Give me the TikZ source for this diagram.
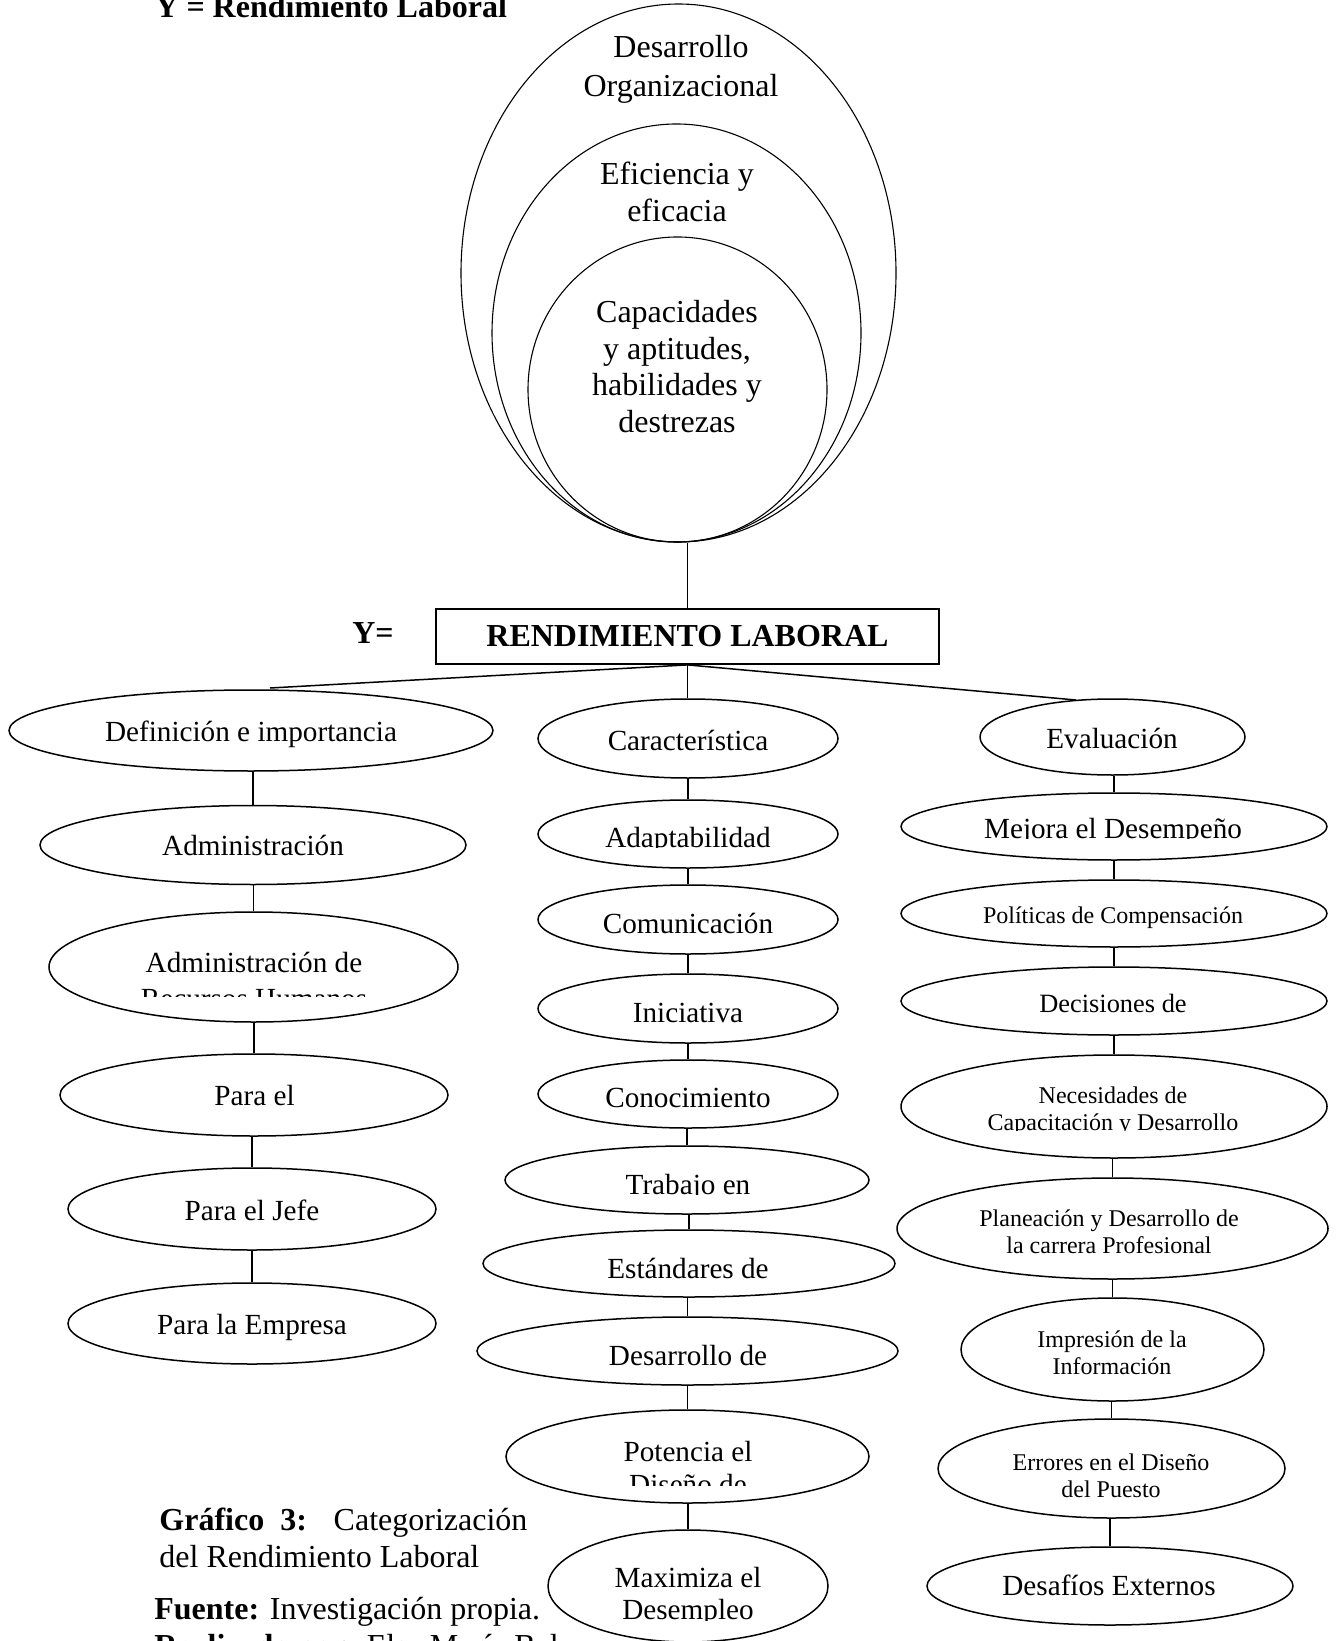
\documentclass[tikz,border=0pt]{standalone}
\usepackage{fontspec}
\setmainfont{Liberation Serif}
\usetikzlibrary{shapes.geometric}

\tikzset{
  oval/.style={ellipse, draw, line width=0.75pt, fill=white, inner sep=0pt},
  ring/.style={ellipse, draw, line width=0.55pt, inner sep=0pt},
  link/.style={line width=0.75pt},
  tA/.style={anchor=base, inner sep=0pt, font=\fontsize{16}{18}\selectfont},
  tB/.style={anchor=base, inner sep=0pt, font=\fontsize{14.6}{16}\selectfont},
  tC/.style={anchor=base, inner sep=0pt, font=\fontsize{13.2}{15}\selectfont},
  tD/.style={anchor=base, inner sep=0pt, font=\fontsize{12}{14}\selectfont},
  capt/.style={anchor=base west, inner sep=0pt, font=\fontsize{16}{18}\selectfont},
}

% ellipse node: name, x, y, half width, half height (in px units = pt/2)
\newcommand\ovalat[5]{\node[oval, minimum width=#4pt, minimum height=#5pt] (#1) at (#2,#3) {};}
% text line: style, name, x, baseline y, text
\newcommand\txt[5]{\node[#1] (#2) at (#3,#4) {#5};}
% text line cut off below a given y
\newcommand\cliptxt[6]{\begin{scope}\clip (#3-330,#4-45) rectangle (#3+330,#6);
  \node[#1] (#2) at (#3,#4) {#5};\end{scope}}

\begin{document}
\begin{tikzpicture}[x=0.5pt, y=-0.5pt]
\useasboundingbox (0,0) rectangle (1338,1641);

% heading
\node[capt, font=\bfseries\fontsize{16}{18}\selectfont] (head) at (155,18) {Y = Rendimiento Laboral};

% nested ellipses
\node[ring, minimum width=217.5pt, minimum height=269pt] (outer) at (678.5,273) {};
\node[ring, minimum width=184.5pt, minimum height=209pt] (middle) at (676.5,333) {};
\node[ring, minimum width=149.5pt, minimum height=152.5pt] (inner) at (677.5,389.5) {};
\txt{tA}{o1}{681}{57.5}{Desarrollo}
\txt{tA}{o2}{681}{96.5}{Organizacional}
\txt{tA}{m1}{677}{184.5}{Eficiencia y}
\txt{tA}{m2}{677}{221.5}{eficacia}
\txt{tA}{i1}{677}{322.5}{Capacidades}
\txt{tA}{i2}{677}{359.5}{y aptitudes,}
\txt{tA}{i3}{677}{395.5}{habilidades y}
\txt{tA}{i4}{677}{432.5}{destrezas}

% central box
\node[draw, line width=0.9pt, minimum width=251.5pt, minimum height=27.5pt, inner sep=0pt,
      font=\bfseries\fontsize{16}{18}\selectfont] (box) at (687.5,636.5) {RENDIMIENTO LABORAL};
\node[anchor=base, inner sep=0pt, font=\bfseries\fontsize{16}{18}\selectfont] (yeq) at (373,643.5) {Y=};
\draw[link] (box.north) -- (box.north |- outer.south);

% left branch
\ovalat{l1}{251}{730.5}{242}{40.5}
\ovalat{l2}{253}{845}{213}{39.5}
\ovalat{l3}{253.5}{967}{204.5}{55}
\ovalat{l4}{254}{1095}{194}{41}
\ovalat{l5}{252}{1209}{184}{41}
\ovalat{l6}{252}{1323.5}{184}{40.5}
\txt{tB}{tl1}{251}{741}{Definición e importancia}
\txt{tB}{tl2}{253}{855}{Administración}
\txt{tB}{tl3a}{254}{972}{Administración de}
\cliptxt{tB}{tl3b}{254}{1008}{Recursos Humanos}{996}
\txt{tB}{tl4}{254.5}{1105}{Para el}
\txt{tB}{tl5}{252}{1220}{Para el Jefe}
\txt{tB}{tl6}{252}{1334}{Para la Empresa}

% middle branch
\ovalat{c1}{688}{738.5}{150}{39.5}
\ovalat{c2}{688}{834}{150}{34}
\ovalat{c3}{688}{919.5}{150}{34.5}
\ovalat{c4}{688}{1008.5}{150}{34.5}
\ovalat{c5}{688}{1094}{150}{34}
\ovalat{c6}{687}{1180}{182}{34}
\ovalat{c7}{689}{1263.5}{206}{33.5}
\ovalat{c8}{687.5}{1351}{210.5}{34}
\ovalat{c9}{687.5}{1456.5}{181.5}{46.5}
\ovalat{c10}{688}{1586}{140}{56}
\txt{tB}{tc1}{688}{750}{Característica}
\cliptxt{tB}{tc2}{688}{847}{Adaptabilidad}{847.5}
\txt{tB}{tc3}{688}{933}{Comunicación}
\txt{tB}{tc4}{688}{1022}{Iniciativa}
\txt{tB}{tc5}{688}{1107}{Conocimiento}
\cliptxt{tB}{tc6}{688}{1194}{Trabajo en}{1194.5}
\txt{tB}{tc7}{688}{1278}{Estándares de}
\txt{tB}{tc8}{688}{1365}{Desarrollo de}
\txt{tB}{tc9a}{688}{1461}{Potencia el}
\cliptxt{tB}{tc9b}{688}{1494}{Diseño de}{1485}
\txt{tB}{tc10a}{688}{1587}{Maximiza el}
\cliptxt{tB}{tc10b}{688}{1619}{Desempleo}{1620}

% right branch
\ovalat{r1}{1112.5}{737}{132.5}{38}
\ovalat{r2}{1114}{826.5}{213}{33.5}
\ovalat{r3}{1114}{913.5}{213}{33.5}
\ovalat{r4}{1114}{1001}{213}{34}
\ovalat{r5}{1114}{1106.5}{213}{51.5}
\ovalat{r6}{1112.5}{1228.5}{215.5}{50.5}
\ovalat{r7}{1112.5}{1349.5}{151.5}{51.5}
\ovalat{r8}{1111.5}{1468.5}{173.5}{49.5}
\ovalat{r9}{1110}{1586}{183}{39}
\txt{tB}{tr1}{1112}{748}{Evaluación}
\cliptxt{tB}{tr2}{1113}{838}{Mejora el Desempeño}{838.5}
\txt{tD}{tr3}{1113}{923}{Políticas de Compensación}
\txt{tC}{tr4}{1113}{1012}{Decisiones de}
\txt{tD}{tr5a}{1113}{1103}{Necesidades de}
\cliptxt{tD}{tr5b}{1113}{1130}{Capacitación y Desarrollo}{1130.5}
\txt{tD}{tr6a}{1109}{1226}{Planeación y Desarrollo de}
\txt{tD}{tr6b}{1109}{1253}{la carrera Profesional}
\txt{tD}{tr7a}{1112}{1347}{Impresión de la}
\txt{tD}{tr7b}{1112}{1374}{Información}
\txt{tD}{tr8a}{1111}{1470}{Errores en el Diseño}
\txt{tD}{tr8b}{1111}{1497}{del Puesto}
\txt{tB}{tr9}{1109}{1595}{Desafíos Externos}

% connectors from the box
\coordinate (defjoin) at (270,688);
\coordinate (evjoin) at (1076,700);
\draw[link] (box.south) -- (defjoin);
\draw[link] (box.south) -- (box.south |- c1.north);
\draw[link] (box.south) -- (evjoin);

% connectors inside each branch
\foreach \a/\b in {l1/l2,l2/l3,l3/l4,l4/l5,l5/l6,
                   c1/c2,c2/c3,c3/c4,c4/c5,c5/c6,c6/c7,c7/c8,c8/c9,c9/c10,
                   r1/r2,r2/r3,r3/r4,r4/r5,r5/r6,r6/r7,r7/r8,r8/r9}
  \draw[link] (\b.north) -- (\b.north |- \a.south);

% caption
\node[capt] (cap1) at (159,1530) {\makebox[184pt][s]{\textbf{Gráfico 3:} Categorización}};
\node[capt] (cap2) at (159,1567.5) {del Rendimiento Laboral};
\node[capt] (cap3) at (154,1619.5) {\textbf{Fuente:} Investigación propia.};
\node[capt] (cap4) at (154,1656) {\textbf{Realizado por:} Elsa María Bal};
\end{tikzpicture}
\end{document}
